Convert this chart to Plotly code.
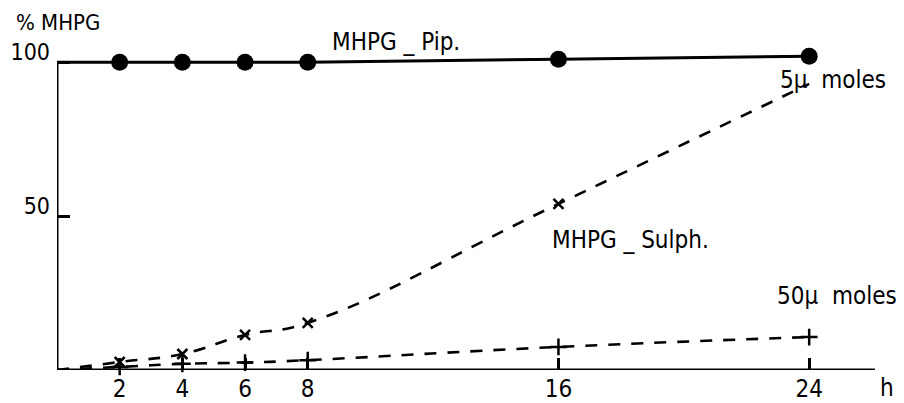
import plotly.graph_objects as go

hours = [0, 2, 4, 6, 8, 16, 24]
pip_pct = [100, 100, 100, 100, 100, 101.0, 102.0]
sulph_5u = [0, 2.6, 5.2, 11.4, 15.3, 54, 93]
sulph_50u = [0, 1.0, 2.0, 2.4, 3.2, 7.5, 10.7]
x_ticks = [2, 4, 6, 8, 16, 24]
y_ticks = [50, 100]

FONT = "DejaVu Sans Condensed, Liberation Sans Narrow, Roboto Condensed, Arial Narrow, sans-serif"

fig = go.Figure()
fig.add_trace(go.Scatter(
    x=hours, y=pip_pct, mode="lines+markers", opacity=1,
    line=dict(color="#000000", width=3),
    marker=dict(symbol="circle", size=[0, 17, 17, 17, 17, 17, 17], color="#000000",
                opacity=1, line=dict(width=0)),
    cliponaxis=False, showlegend=False))
fig.add_trace(go.Scatter(
    x=hours, y=sulph_5u, mode="lines+markers", opacity=1,
    line=dict(color="#000000", width=2.6, dash="12px,11px", shape="spline", smoothing=1.3),
    marker=dict(symbol="x-thin", size=[0, 10, 10, 10, 10, 10, 0], color="#000000",
                opacity=1, line=dict(color="#000000", width=2.5)),
    cliponaxis=False, showlegend=False))
fig.add_trace(go.Scatter(
    x=hours, y=sulph_50u, mode="lines+markers", opacity=1,
    line=dict(color="#000000", width=2.6, dash="12px,11px", shape="spline", smoothing=1.3),
    marker=dict(symbol="cross-thin", size=[0, 12, 12, 12, 12, 12, 12], color="#000000",
                opacity=1, line=dict(color="#000000", width=2.5)),
    cliponaxis=False, showlegend=False))

fig.update_xaxes(range=[0, 26.1], showgrid=False, zeroline=False, showline=False,
                 automargin=False,
                 tickvals=x_ticks, ticktext=[str(v) for v in x_ticks],
                 ticks="inside", ticklen=12, tickwidth=2.5, tickcolor="black",
                 ticklabelstandoff=2,
                 tickfont=dict(family=FONT, size=24, color="black"))
fig.update_yaxes(range=[0, 104], showgrid=False, zeroline=False, showline=False,
                 automargin=False,
                 tickvals=y_ticks, ticktext=[str(v) for v in y_ticks],
                 ticks="inside", ticklen=13, tickwidth=2.5, tickcolor="black",
                 ticklabelposition="outside", ticklabelstandoff=6, ticklabelshift=-10,
                 tickfont=dict(family=FONT, size=23, color="black"))

fig.add_shape(type="line", x0=0, x1=0, y0=0, y1=100, xref="x", yref="y",
              line=dict(color="black", width=3), layer="above")
fig.add_shape(type="line", x0=0, x1=1, y0=0, y1=0, xref="paper", yref="y",
              line=dict(color="black", width=3), layer="above")

annotations = [
    ("% MHPG", -0.052, 1.0875, 22),
    ("MHPG _ Pip.", 0.3337, 1.025, 24),
    ("5\u03bc  moles", 0.881, 0.906, 24),
    ("MHPG _ Sulph.", 0.6027, 0.406, 24),
    ("50\u03bc  moles", 0.878, 0.231, 24),
    ("h", 1.0037, -0.056, 24),
]
for text, ax, ay, fs in annotations:
    fig.add_annotation(x=ax, y=ay, xref="paper", yref="paper", text=text,
                       showarrow=False, xanchor="left", yanchor="middle",
                       font=dict(family=FONT, size=fs, color="black"))

# page body has an 8px margin, so the figure is 8px smaller than the window
fig.update_layout(width=896, height=395, margin=dict(l=49, r=29, t=42, b=33),
                  plot_bgcolor="white", paper_bgcolor="white")

fig.write_html("out.html")
